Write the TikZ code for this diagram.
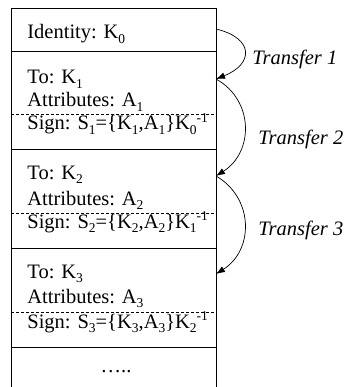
\documentclass[tikz,border=0pt]{standalone}
\usepackage{fontspec}
\setmainfont{Liberation Serif}
\usetikzlibrary{arrows.meta}
\newcommand\dn[1]{\raisebox{-4.5pt}{\fontsize{13.5}{14}\selectfont #1}}
\newcommand\up[1]{\raisebox{7.5pt}{\fontsize{13.5}{14}\selectfont #1}}
\tikzset{
  txt/.style={anchor=base west, inner sep=0pt, font=\fontsize{20.5}{24}\selectfont},
  lab/.style={anchor=base west, inner sep=0pt, font=\fontsize{20.5}{24}\selectfont\itshape},
  move/.style={-{Latex[length=9pt,width=6.5pt]}, line width=0.7pt},
  sep/.style={dash pattern=on 3pt off 2pt},
}
\begin{document}
\begin{tikzpicture}[x=1pt,y=-1pt,line width=0.8pt]
  \useasboundingbox (0,0) rectangle (349,387);
  % frame, open at the bottom
  \draw (11,387) -- (11,8) -- (216,8) -- (216,387);
  \draw (11,51) -- (216,51);
  \draw (11,149) -- (216,149);
  \draw (11,248) -- (216,248);
  \draw (11,347) -- (216,347);
  \draw[sep] (11,114) -- (216,114);
  \draw[sep] (11,213) -- (216,213);
  \draw[sep] (11,312) -- (216,312);
  % texts
  \node[txt] (id) at (27,39) {Identity: K\dn{0}};
  \node[txt] (to1) at (27,84) {To: K\dn{1}};
  \node[txt] (at1) at (27,107) {Attributes: A\dn{1}};
  \node[txt] (sg1) at (27,130) {Sign: S\dn{1}=\{K\dn{1},A\dn{1}\}K\dn{0}\up{-1}};
  \node[txt] (to2) at (27,179) {To: K\dn{2}};
  \node[txt] (at2) at (27,205) {Attributes: A\dn{2}};
  \node[txt] (sg2) at (27,228) {Sign: S\dn{2}=\{K\dn{2},A\dn{2}\}K\dn{1}\up{-1}};
  \node[txt] (to3) at (27,278) {To: K\dn{3}};
  \node[txt] (at3) at (27,303) {Attributes: A\dn{3}};
  \node[txt] (sg3) at (27,328) {Sign: S\dn{3}=\{K\dn{3},A\dn{3}\}K\dn{2}\up{-1}};
  \node[txt, anchor=base] (more) at (116,372) {…..};
  % transfers
  \coordinate (r0) at (216,29);
  \coordinate (r1) at (216,79);
  \coordinate (r2) at (216,176);
  \coordinate (r3) at (216,274);
  \draw[move] (r0) .. controls (254,38) and (254,64) .. (r1);
  \draw[move] (r1) .. controls (254,100) and (254,152) .. (r2);
  \draw[move] (r2) .. controls (254,198) and (254,250) .. (r3);
  \node[lab] (t1) at (252,65) {Transfer 1};
  \node[lab] (t2) at (258,145) {Transfer 2};
  \node[lab] (t3) at (258,235) {Transfer 3};
\end{tikzpicture}
\end{document}
